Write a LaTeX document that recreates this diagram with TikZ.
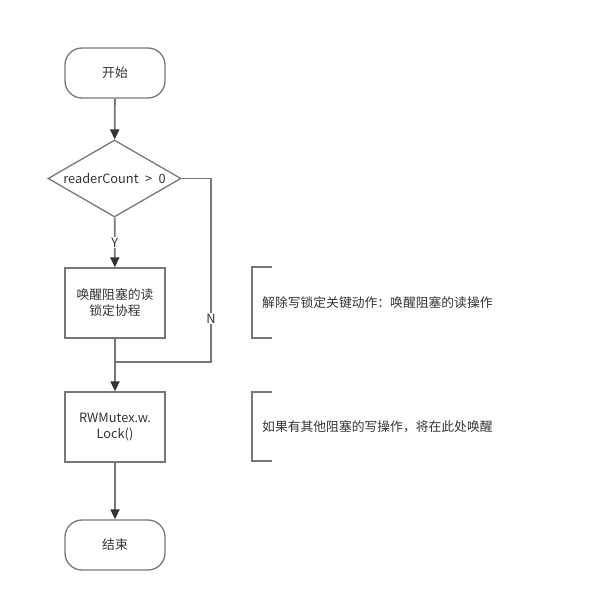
\documentclass[tikz,border=0pt]{standalone}
\usepackage{fontspec}
\setmainfont{Noto Sans CJK SC}
\usetikzlibrary{shapes.geometric,arrows.meta,positioning}
\definecolor{linegray}{HTML}{777777}
\definecolor{textgray}{HTML}{333333}
\tikzset{
  every node/.style={font=\fontsize{12.8}{16}\selectfont, text=textgray},
  terminal/.style={draw=linegray, line width=1.3pt, rounded corners=17pt, minimum width=100pt, minimum height=50pt, inner sep=0pt},
  procbox/.style={draw=linegray, line width=1.3pt, minimum width=100pt, minimum height=70pt, align=center, inner sep=0pt},
  decision/.style={draw=linegray, line width=1.3pt, diamond, minimum width=133pt, minimum height=77pt, inner sep=0pt, aspect=1.73},
  conn/.style={draw=linegray, line width=1.8pt, -{Triangle[length=10pt,width=9pt,fill=textgray,color=textgray]}},
  plainconn/.style={draw=linegray, line width=1.8pt},
  bracket/.style={draw=linegray, line width=1.8pt},
}
\begin{document}
\begin{tikzpicture}[x=1pt,y=-1pt]
\useasboundingbox (0,0) rectangle (590,602);
\node[terminal] (start) at (115,73) {开始};
\node[decision] (dec) at (114.5,178.5) {readerCount\enspace>\enspace0};
\node[procbox] (wake) at (115,303) {唤醒阻塞的读\\锁定协程};
\node[procbox] (lock) at (115,427) {RWMutex.w.\\Lock()};
\node[terminal] (stop) at (115,545) {结束};
\coordinate (nr) at (211,178.5);
\coordinate (nb) at (211,362);
\coordinate (j) at (115,362);
\draw[conn] (start) -- (dec);
\draw[conn] (dec) -- node[fill=white, inner sep=1pt, pos=0.5] {Y} (wake);
\draw[conn] (wake) -- (lock);
\draw[plainconn] (dec.east) -- (nr) -- node[fill=white, inner sep=1pt, pos=0.764] {N} (nb) -- (j);
\draw[conn] (lock) -- (stop);
% annotations
\coordinate (a1t) at (272,267);
\coordinate (a1tl) at (252,267);
\coordinate (a1bl) at (252,338);
\coordinate (a1b) at (272,338);
\draw[bracket] (a1t) -- (a1tl) -- (a1bl) -- (a1b);
\node[anchor=west, inner sep=0pt] (n1) at (262,302.5) {解除写锁定关键动作：唤醒阻塞的读操作};
\coordinate (a2t) at (272,392);
\coordinate (a2tl) at (252,392);
\coordinate (a2bl) at (252,461);
\coordinate (a2b) at (272,461);
\draw[bracket] (a2t) -- (a2tl) -- (a2bl) -- (a2b);
\node[anchor=west, inner sep=0pt] (n2) at (262,426.5) {如果有其他阻塞的写操作，将在此处唤醒};
\end{tikzpicture}
\end{document}
